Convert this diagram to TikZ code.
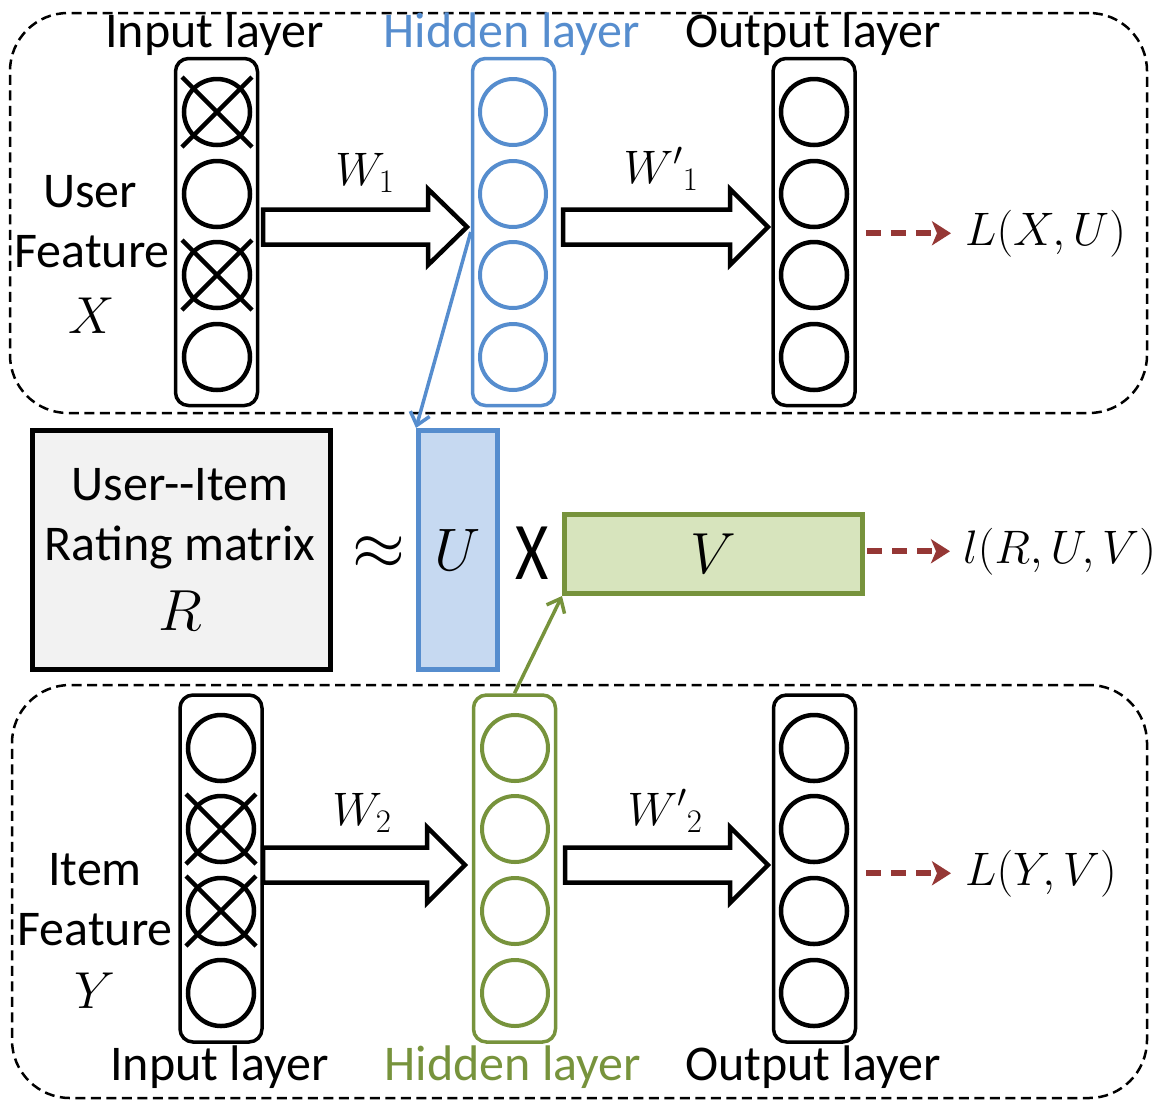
\RequirePackage{fix-cm}
\documentclass[tikz,border=0pt]{standalone}
\usepackage{fontspec}
\setmainfont{Carlito}
\usetikzlibrary{arrows.meta}
\definecolor{hblue}{RGB}{86,141,206}
\definecolor{ufill}{RGB}{198,217,241}
\definecolor{ggreen}{RGB}{119,147,60}
\definecolor{vfill}{RGB}{215,228,189}
\definecolor{lossred}{RGB}{149,55,53}
\definecolor{rfill}{RGB}{242,242,242}
\begin{document}
\begin{tikzpicture}[x=1pt,y=-1pt,
  font=\fontsize{50}{61}\selectfont,
  groupbox/.style={draw, rectangle, line width=2.5pt, dash pattern=on 10pt off 5.5pt, rounded corners=58pt, inner sep=0pt},
  layerbox/.style={draw, rectangle, rounded corners=13pt, line width=3.5pt, minimum width=82pt, minimum height=347pt, inner sep=0pt},
  neuron/.style={draw, circle, line width=4.5pt, minimum size=66pt, inner sep=0pt},
  crossline/.style={line width=4.5pt},
  blockarrow/.style={draw, line width=4.5pt, fill=white},
  lossarrow/.style={draw=lossred, line width=6pt, dash pattern=on 15pt off 10pt, -{Stealth[length=19pt,width=24pt,inset=5pt]}},
  lbl/.style={inner sep=0pt, anchor=base},
  mlbl/.style={inner sep=0pt, anchor=base, font=\fontsize{52}{60}\selectfont},
  losslbl/.style={inner sep=0pt, anchor=base west, font=\fontsize{47}{56}\selectfont},
  matbox/.style={draw, rectangle, line width=5pt, inner sep=0pt},
  bluecon/.style={draw=hblue, line width=3.5pt, -{Straight Barb[length=12pt,width=20pt,line width=3.5pt]}},
  greencon/.style={draw=ggreen, line width=3.5pt, -{Straight Barb[length=12pt,width=20pt,line width=3.5pt]}}
]
\useasboundingbox (0,0) rectangle (1167,1109);

% group boxes
\node[groupbox, minimum width=1137pt, minimum height=400pt] (topgroup) at (578.5,213) {};
\node[groupbox, minimum width=1135pt, minimum height=413pt] (botgroup) at (579.5,891.5) {};

% ---------- top network ----------
\node[layerbox] (in1) at (216.5,232) {};
\node[layerbox, draw=hblue] (hid1) at (513.5,232) {};
\node[layerbox] (out1) at (814,232) {};

\foreach \i/\y in {1/112,2/194,3/275,4/357}{
  \node[neuron] (ta\i) at (217,\y) {};
  \node[neuron, draw=hblue, line width=4pt] (tb\i) at (513,\y) {};
  \node[neuron] (tc\i) at (814,\y) {};
}
\foreach \i in {1,3}{
  \draw[crossline] (ta\i) ++(-35,-35) -- ++(70,70) (ta\i) ++(-35,35) -- ++(70,-70);
}

\node[lbl] (tin) at (214.5,47) {Input layer};
\node[lbl, text=hblue] (thid) at (512,47) {Hidden layer};
\node[lbl] (tout) at (813,47) {Output layer};

\node[lbl] (user1) at (90,207) {User};
\node[lbl] (feat1) at (92,267) {Feature};
\node[mlbl] (xlab) at (92,333) {$X$};

\draw[blockarrow] (263,209.5) -- (428,209.5) -- (428,189) -- (467,227) -- (428,265) -- (428,244.5) -- (263,244.5) -- cycle;
\draw[blockarrow] (563,209.5) -- (730,209.5) -- (730,189) -- (768,227) -- (730,265) -- (730,244.5) -- (563,244.5) -- cycle;
\node[losslbl, anchor=base] (w1) at (365,185) {$W_1$};
\node[losslbl, anchor=base] (w1p) at (661,183) {${W'}_1$};

\node[losslbl] (LXU) at (965,245) {$L(X,U)$};
\draw[lossarrow, shorten <=9pt, shorten >=14pt] (out1.east |- LXU.west) -- (LXU.west);

% ---------- middle ----------
\node[matbox, fill=rfill, minimum width=298pt, minimum height=239pt] (R) at (181.5,550) {};
\node[lbl] (rt1) at (180,500) {User-\kern0pt-Item};
\node[lbl] (rt2) at (180,560) {Rating matrix};
\node[mlbl, font=\fontsize{58}{64}\selectfont] (rt3) at (180,630) {$R$};

\node[inner sep=0pt, font=\fontsize{68}{70}\selectfont] (approx) at (379,553) {$\approx$};
\node[matbox, draw=hblue, fill=ufill, minimum width=79pt, minimum height=239pt, font=\fontsize{60}{66}\selectfont] (U) at (458,550) {$U$};
\node[inner sep=0pt, font=\fontsize{64}{66}\selectfont, yscale=1.28, transform shape] (times) at (532,553) {X};
\node[matbox, draw=ggreen, fill=vfill, minimum width=298pt, minimum height=79pt, font=\fontsize{58}{64}\selectfont] (V) at (713.5,554) {$V$};

\node[losslbl] (lRUV) at (963,563) {$l(R,U,V)$};
\draw[lossarrow, shorten <=2pt, shorten >=13pt] (V.east |- lRUV.west) -- (lRUV.west);

% ---------- bottom network ----------
\node[layerbox] (in2) at (221,868.5) {};
\node[layerbox, draw=ggreen] (hid2) at (514.5,868.5) {};
\node[layerbox] (out2) at (814.5,868.5) {};

\foreach \i/\y in {1/748,2/829,3/911,4/993}{
  \node[neuron] (ba\i) at (221,\y) {};
  \node[neuron, draw=ggreen, line width=4pt] (bb\i) at (515,\y) {};
  \node[neuron] (bc\i) at (814,\y) {};
}
\foreach \i in {2,3}{
  \draw[crossline] (ba\i) ++(-35,-35) -- ++(70,70) (ba\i) ++(-35,35) -- ++(70,-70);
}

\node[lbl] (bin) at (219.5,1080) {Input layer};
\node[lbl, text=ggreen] (bhid) at (513,1080) {Hidden layer};
\node[lbl] (bout) at (813,1080) {Output layer};

\node[lbl] (item2) at (95,885) {Item};
\node[lbl] (feat2) at (95,945) {Feature};
\node[mlbl] (ylab) at (95,1008) {$Y$};

\draw[blockarrow] (263,847.5) -- (427,847.5) -- (427,827) -- (465,865) -- (427,903) -- (427,882.5) -- (263,882.5) -- cycle;
\draw[blockarrow] (565,847.5) -- (730,847.5) -- (730,827) -- (768,865) -- (730,903) -- (730,882.5) -- (565,882.5) -- cycle;
\node[losslbl, anchor=base] (w2) at (362,825) {$W_2$};
\node[losslbl, anchor=base] (w2p) at (665,825) {${W'}_2$};

\node[losslbl] (LYV) at (965,885) {$L(Y,V)$};
\draw[lossarrow, shorten <=9pt, shorten >=14pt] (out2.east |- LYV.west) -- (LYV.west);

% ---------- connectors to U and V ----------
\draw[bluecon] (hid1.west) -- (U.north west);
\draw[greencon] (hid2.north) -- (V.south west);
\end{tikzpicture}
\end{document}
